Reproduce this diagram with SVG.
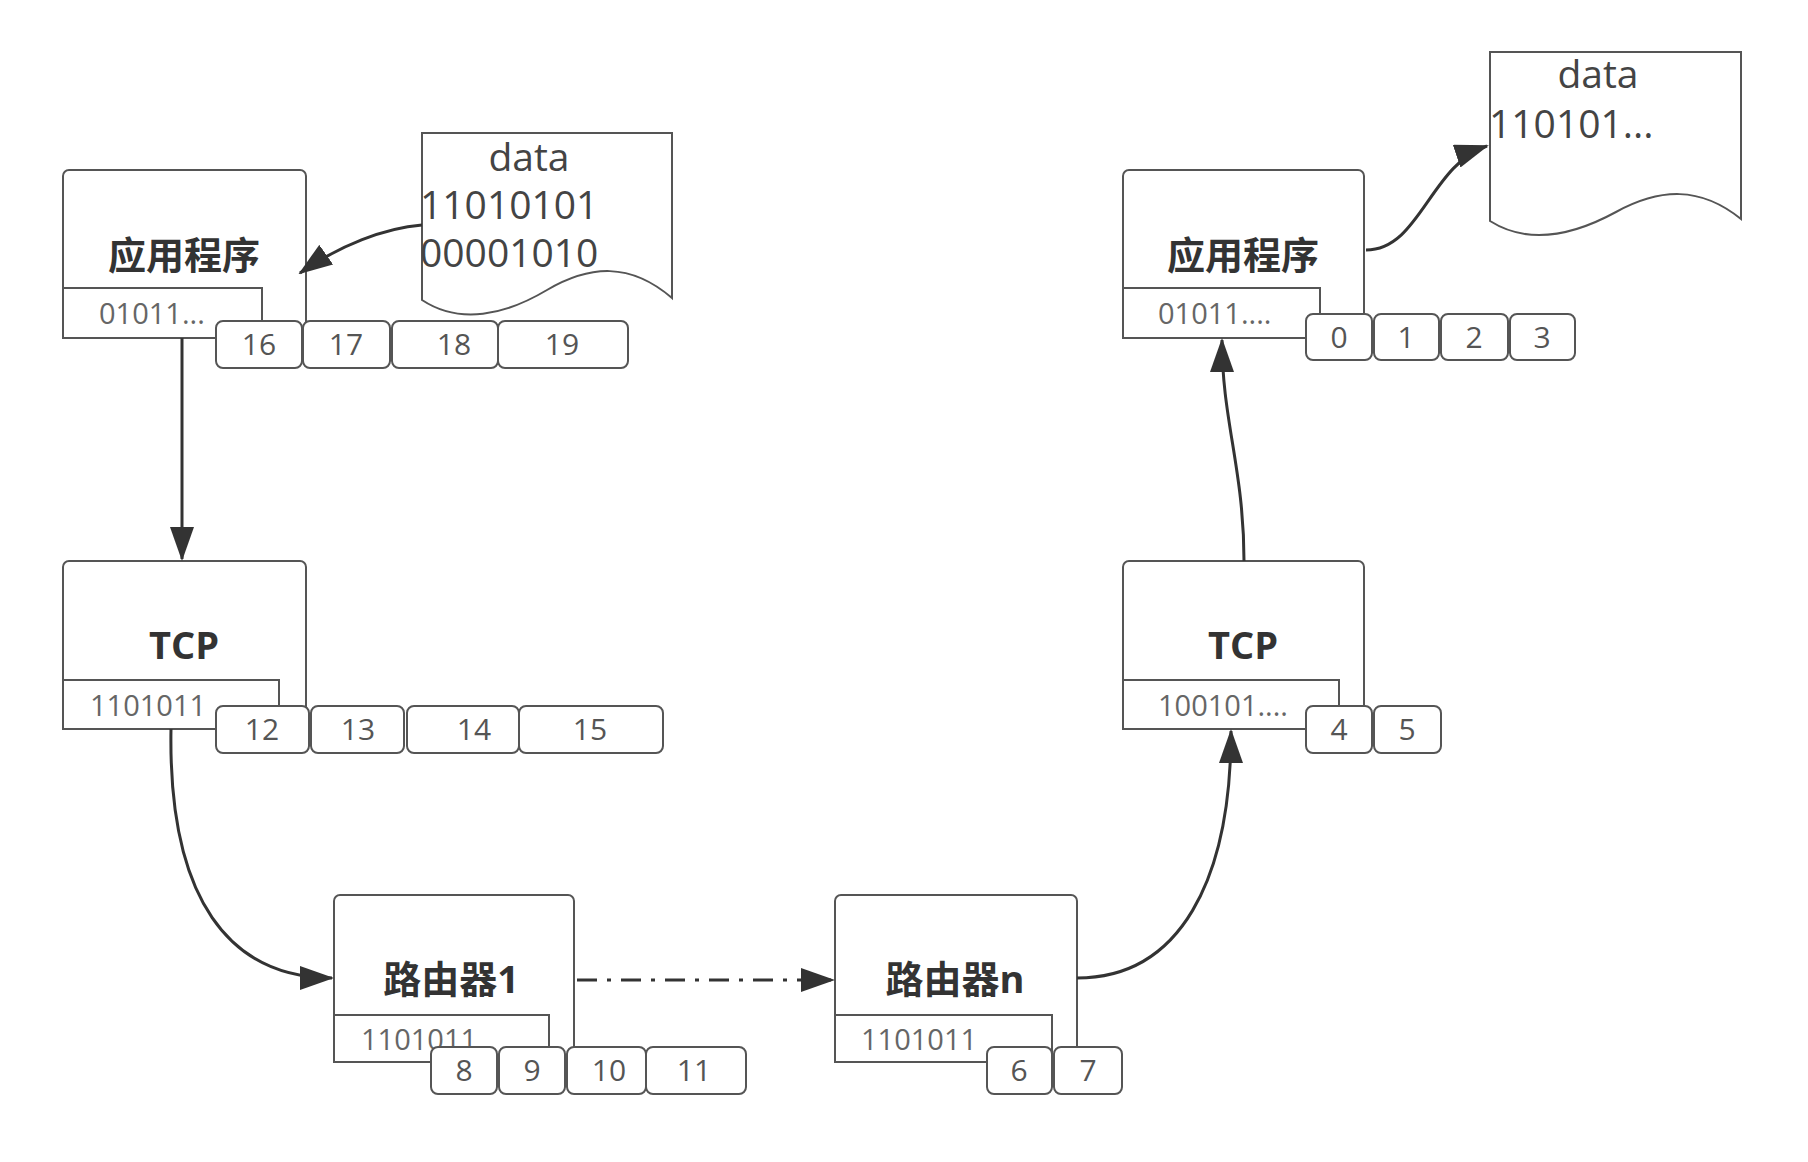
<svg xmlns="http://www.w3.org/2000/svg" width="1808" height="1162" viewBox="0 0 1808 1162">
<defs>
<marker id="arr" viewBox="0 0 34 24" refX="32" refY="12" markerWidth="34" markerHeight="24" markerUnits="userSpaceOnUse" orient="auto">
<path d="M0,0 L34,12 L0,24 Z" fill="#333"/>
</marker>
<style>
.box{fill:#fff;stroke:#555;stroke-width:2}
.sub{fill:#fff;stroke:#555;stroke-width:2}
.cell{fill:#fff;stroke:#555;stroke-width:2}
.lbl{font-family:"Open Sans","Noto Sans CJK SC",sans-serif;font-weight:bold;font-size:38px;fill:#333;text-anchor:middle}
.bits{font-family:"Open Sans","Liberation Sans",sans-serif;font-size:29px;fill:#666}
.num{font-family:"Open Sans","Liberation Sans",sans-serif;font-size:30px;fill:#555;text-anchor:middle}
.doc{fill:#fff;stroke:#555;stroke-width:2}
.dtxt{font-family:"Open Sans","Liberation Sans",sans-serif;font-size:39px;fill:#444}
.conn{fill:none;stroke:#333;stroke-width:3;marker-end:url(#arr)}
</style>
</defs>
<rect width="1808" height="1162" fill="#fff"/>

<g id="doc-left">
<path class="doc" d="M422,133 H672 V298 C630,262 590,265 547,290 C505,315 460,325 422,300 Z"/>
<text class="dtxt" x="529" y="171" text-anchor="middle">data</text>
<text class="dtxt" x="420" y="219">11010101</text>
<text class="dtxt" x="420" y="267">00001010</text>
</g>

<g id="doc-right">
<path class="doc" d="M1490,52 H1741 V219 C1700,186 1660,188 1616,212 C1572,236 1528,245 1490,221 Z"/>
<text class="dtxt" x="1598" y="88" text-anchor="middle">data</text>
<text class="dtxt" x="1489" y="138">110101...</text>
</g>

<g id="app-left">
<rect class="box" x="63" y="170" width="243" height="168" rx="6"/>
<path class="sub" d="M63,288 H262 V338 H63 Z"/>
<text class="lbl" x="184" y="269">应用程序</text>
<text class="bits" x="99" y="324">01011...</text>
<rect class="cell" x="216" y="321" width="86" height="47" rx="7"/>
<rect class="cell" x="303" y="321" width="87" height="47" rx="7"/>
<rect class="cell" x="392" y="321" width="106" height="47" rx="7"/>
<rect class="cell" x="498" y="321" width="130" height="47" rx="7"/>
<text class="num" x="259" y="355">16</text>
<text class="num" x="346" y="355">17</text>
<text class="num" x="454" y="355">18</text>
<text class="num" x="562" y="355">19</text>
</g>

<g id="tcp-left">
<rect class="box" x="63" y="561" width="243" height="168" rx="6"/>
<path class="sub" d="M63,680 H279 V729 H63 Z"/>
<text class="lbl" x="184" y="659">TCP</text>
<text class="bits" x="90" y="716">1101011</text>
<rect class="cell" x="216" y="706" width="93" height="47" rx="7"/>
<rect class="cell" x="311" y="706" width="93" height="47" rx="7"/>
<rect class="cell" x="407" y="706" width="112" height="47" rx="7"/>
<rect class="cell" x="519" y="706" width="144" height="47" rx="7"/>
<text class="num" x="262" y="740">12</text>
<text class="num" x="358" y="740">13</text>
<text class="num" x="474" y="740">14</text>
<text class="num" x="590" y="740">15</text>
</g>

<g id="router-1">
<rect class="box" x="334" y="895" width="240" height="167" rx="6"/>
<path class="sub" d="M334,1015 H549 V1062 H334 Z"/>
<text class="lbl" x="451" y="993">路由器1</text>
<text class="bits" x="361" y="1050">1101011</text>
<rect class="cell" x="431" y="1047" width="66" height="47" rx="7"/>
<rect class="cell" x="499" y="1047" width="66" height="47" rx="7"/>
<rect class="cell" x="567" y="1047" width="79" height="47" rx="7"/>
<rect class="cell" x="646" y="1047" width="100" height="47" rx="7"/>
<text class="num" x="464" y="1081">8</text>
<text class="num" x="532" y="1081">9</text>
<text class="num" x="609" y="1081">10</text>
<text class="num" x="694" y="1081">11</text>
</g>

<g id="router-n">
<rect class="box" x="835" y="895" width="242" height="167" rx="6"/>
<path class="sub" d="M835,1015 H1052 V1062 H835 Z"/>
<text class="lbl" x="955" y="993">路由器n</text>
<text class="bits" x="861" y="1050">1101011</text>
<rect class="cell" x="987" y="1047" width="65" height="47" rx="7"/>
<rect class="cell" x="1054" y="1047" width="68" height="47" rx="7"/>
<text class="num" x="1019" y="1081">6</text>
<text class="num" x="1088" y="1081">7</text>
</g>

<g id="tcp-right">
<rect class="box" x="1123" y="561" width="241" height="168" rx="6"/>
<path class="sub" d="M1123,680 H1339 V729 H1123 Z"/>
<text class="lbl" x="1243" y="659">TCP</text>
<text class="bits" x="1158" y="716">100101....</text>
<rect class="cell" x="1306" y="706" width="66" height="47" rx="7"/>
<rect class="cell" x="1374" y="706" width="67" height="47" rx="7"/>
<text class="num" x="1339" y="740">4</text>
<text class="num" x="1407" y="740">5</text>
</g>

<g id="app-right">
<rect class="box" x="1123" y="170" width="241" height="168" rx="6"/>
<path class="sub" d="M1123,288 H1320 V338 H1123 Z"/>
<text class="lbl" x="1243" y="269">应用程序</text>
<text class="bits" x="1158" y="324">01011....</text>
<rect class="cell" x="1306" y="314" width="66" height="46" rx="7"/>
<rect class="cell" x="1374" y="314" width="65" height="46" rx="7"/>
<rect class="cell" x="1441" y="314" width="67" height="46" rx="7"/>
<rect class="cell" x="1510" y="314" width="65" height="46" rx="7"/>
<text class="num" x="1339" y="348">0</text>
<text class="num" x="1406" y="348">1</text>
<text class="num" x="1474" y="348">2</text>
<text class="num" x="1542" y="348">3</text>
</g>

<g id="connectors">
<path class="conn" d="M422,225 C385,228 340,245 300,273"/>
<path class="conn" d="M182,338 V559"/>
<path class="conn" d="M171,729 C168,900 230,978 332,978"/>
<path class="conn" d="M577,980 H833" stroke-dasharray="20 10 4 10"/>
<path class="conn" d="M1077,978 C1180,978 1231,880 1231,731"/>
<path class="conn" d="M1244,561 C1244,470 1222,420 1222,340"/>
<path class="conn" d="M1366,250 C1420,250 1430,165 1487,146"/>
</g>
</svg>
